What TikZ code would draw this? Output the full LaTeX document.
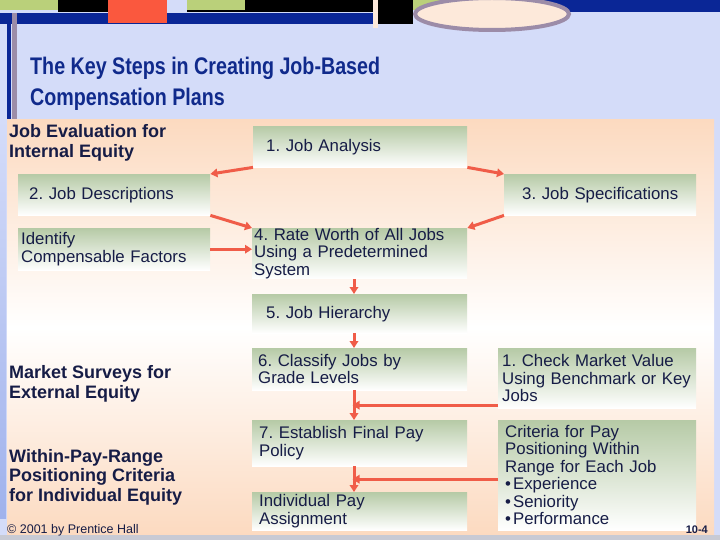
\documentclass[tikz,border=0pt]{standalone}
\usepackage{fontspec}
\setmainfont{Liberation Sans}
\newfontfamily\narrowfont[FakeStretch=0.82]{Liberation Sans}
\usetikzlibrary{arrows.meta,calc}
\frenchspacing
\definecolor{slidebg}{RGB}{212,220,249}
\definecolor{navy}{RGB}{10,38,150}
\definecolor{titleblue}{RGB}{16,42,140}
\definecolor{ink}{RGB}{22,28,70}
\definecolor{peach}{RGB}{252,218,192}
\definecolor{sage}{RGB}{182,202,166}
\definecolor{flowred}{RGB}{240,92,72}
\definecolor{leaf}{RGB}{186,208,122}
\definecolor{tomato}{RGB}{250,88,62}
\definecolor{mauve}{RGB}{156,140,168}
\definecolor{cream}{RGB}{253,233,218}
\definecolor{footgray}{RGB}{200,202,212}
\newcommand{\boxfont}{\fontsize{16.8}{17.5}\selectfont}
\newcommand{\sidefont}{\fontsize{18}{20}\selectfont\bfseries}

\tikzset{
  stepbox/.style={anchor=north west, inner ysep=0pt, align=left,
    top color=sage, bottom color=white, text=ink, font=\boxfont},
  sidelabel/.style={anchor=base west, inner sep=0pt, align=left,
    text=ink, font=\sidefont},
  flow/.style={draw=flowred, line width=3pt,
    -{Triangle[length=7pt,width=8.5pt]}},
}

\begin{document}
\begin{tikzpicture}[x=1pt,y=-1pt]
\useasboundingbox (0,0) rectangle (720,540);
% slide background and top bar
\fill[slidebg] (0,0) rectangle (720,540);
\fill[black] (58,0) rectangle (373,12);
\fill[slidebg] (167,0) rectangle (187,13);
\fill[leaf] (0,0) rectangle (58,10);
\fill[leaf] (187,0) rectangle (245,10);
\fill[navy] (0,13) rectangle (373,24);
\fill[tomato] (108,0) rectangle (167,23);
\fill[cream] (373,0) rectangle (378,28);
\fill[black] (378,0) rectangle (413,24);
\fill[leaf] (413,0) rectangle (460,10);
\fill[navy] (520,0) rectangle (720,12);
\filldraw[fill=cream, draw=mauve, line width=4pt] (492,14) ellipse [x radius=77, y radius=16];
\fill[navy] (7,24) rectangle (11,122);
\fill[mauve] (12,13) rectangle (17,122);

\node[anchor=base west, inner sep=0pt, align=left, text=titleblue,
  font={\narrowfont\bfseries\fontsize{24}{31}\selectfont}] (title) at (30,106)
  {The Key Steps in Creating Job-Based\\Compensation Plans};

% content panel
\shade[top color=peach, bottom color=peach, middle color=white] (7,120) rectangle (714,535);
\shade[top color=slidebg, bottom color={rgb,255:red,160;green,178;blue,236}] (0,120) rectangle (6,518);
\fill[footgray] (0,535) rectangle (720,540);

% job evaluation column
\node[stepbox, inner xsep=13pt, text width=188pt, minimum height=41pt] (ana) at (253,126) {1. Job Analysis};
\node[stepbox, inner xsep=11pt, text width=170pt, minimum height=41pt] (des) at (18,174) {2. Job Descriptions};
\node[stepbox, inner xsep=4pt, text width=184pt, minimum height=41pt, align=center] (spe) at (504,174) {3. Job Specifications};
\node[stepbox, inner xsep=3pt, text width=186pt, minimum height=42pt] (fac) at (18,228) {Identify\\Compensable Factors};
\node[stepbox, inner xsep=2pt, text width=211pt, minimum height=50pt] (rat) at (252,228) {4. Rate Worth of All Jobs\\Using a Predetermined\\System};
\node[stepbox, inner xsep=14pt, text width=187pt, minimum height=39pt] (hie) at (252,294) {5. Job Hierarchy};
\node[stepbox, inner xsep=6pt, text width=203pt, minimum height=42pt] (cls) at (252,348) {6. Classify Jobs by\\Grade Levels};
\node[stepbox, inner xsep=7pt, text width=201pt, minimum height=46pt] (fin) at (252,420) {7. Establish Final Pay\\Policy};
\node[stepbox, inner xsep=7pt, text width=201pt, minimum height=38pt] (ind) at (252,492) {Individual Pay\\Assignment};
% market and individual inputs
\node[stepbox, inner xsep=4pt, text width=190pt, minimum height=60pt] (mkt) at (498,348) {1. Check Market Value\\Using Benchmark or Key\\Jobs};
\node[stepbox, inner xsep=7pt, text width=184pt, minimum height=110pt] (crt) at (498,420)
  {Criteria for Pay\\Positioning Within\\Range for Each Job\\\textbullet\hspace{2pt}Experience\\\textbullet\hspace{2pt}Seniority\\\textbullet\hspace{2pt}Performance};

\node[sidelabel] (evl) at (9,158) {Job Evaluation for\\Internal Equity};
\node[sidelabel] (srv) at (9,398) {Market Surveys for\\External Equity};
\node[sidelabel, font={\fontsize{18}{19.5}\selectfont\bfseries}] (rng) at (9,501) {Within-Pay-Range\\Positioning Criteria\\for Individual Equity};
\node[anchor=base west, inner sep=0pt, text=ink, font=\fontsize{12.5}{14}\selectfont] (credit) at (7,533) {\textcopyright{} 2001 by Prentice Hall};
\node[anchor=base east, inner sep=0pt, text=ink, font=\fontsize{11}{12}\selectfont\bfseries] (pgno) at (708,533) {10-4};

% arrows
\coordinate (spine) at (354,0);
\draw[flow] (ana.south west) -- (des.north east);
\draw[flow] (ana.south east) -- (spe.north west);
\draw[flow] (des.south east) -- (rat.north west);
\draw[flow] (spe.south west) -- (rat.north east);
\draw[flow] (fac.east) -- (fac.east -| rat.west);
\draw[flow] (rat.south -| spine) -- (hie.north -| spine);
\draw[flow] (hie.south -| spine) -- (cls.north -| spine);
\draw[flow] (cls.south -| spine) -- (fin.north -| spine);
\draw[flow] (fin.south -| spine) -- (ind.north -| spine);
\coordinate (j1) at ($(cls.south -| spine)!.5!(fin.north -| spine)$);
\coordinate (j2) at ($(fin.south -| spine)!.5!(ind.north -| spine)$);
\draw[flow, shorten >=-1.5pt] (mkt.west |- j1) -- (j1);
\draw[flow, shorten >=-1.5pt] (crt.west |- j2) -- (j2);
\end{tikzpicture}
\end{document}
